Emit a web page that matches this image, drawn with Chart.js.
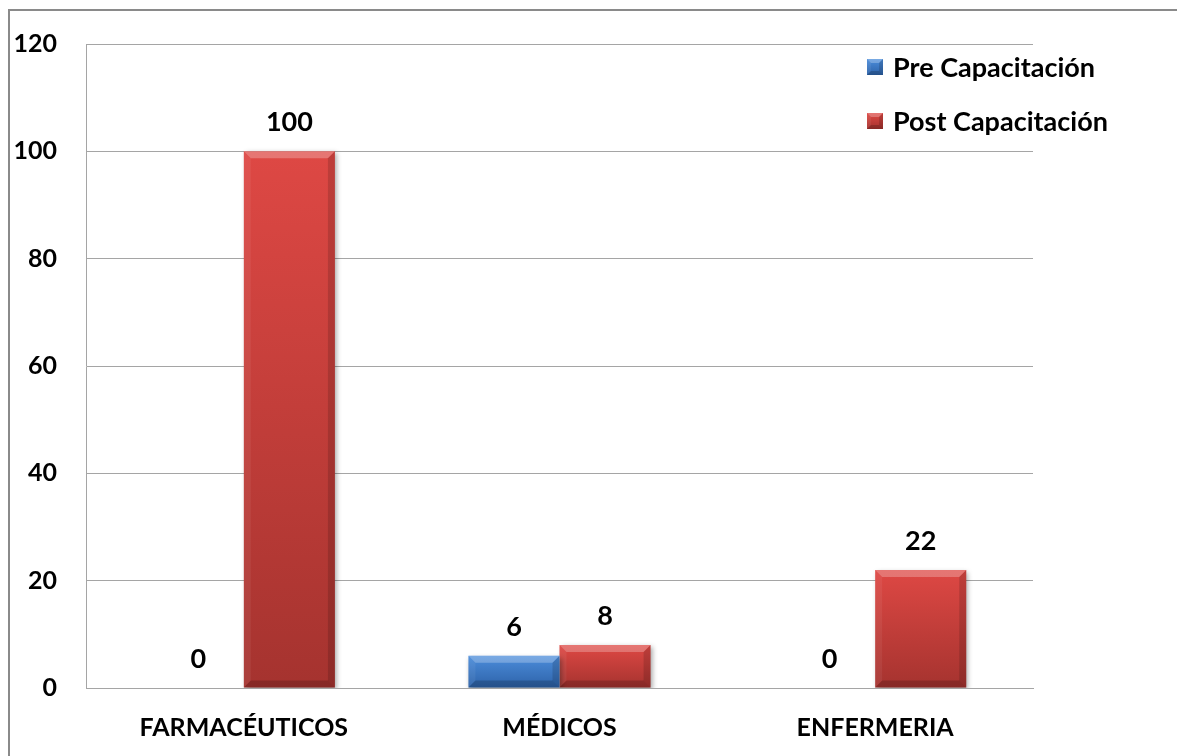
<!DOCTYPE html>
<html>
<head>
<meta charset="utf-8">
<script src="https://cdn.jsdelivr.net/npm/chart.js@4/dist/chart.umd.min.js"></script>
<style>
  html, body { margin: 0; padding: 0; background: #fff; overflow: hidden; }
  #wrap { position: absolute; left: 0; top: 0; width: 1177px; height: 756px; }
</style>
</head>
<body>
<div id="wrap"><canvas id="chart-capacitacion" width="1177" height="756"></canvas></div>
<script>
// ── Data
const categories = ['FARMACÉUTICOS', 'MÉDICOS', 'ENFERMERIA'];
const seriesNames = ['Pre Capacitación', 'Post Capacitación'];
const preValues  = [0, 6, 0];
const postValues = [100, 8, 22];
const yTicks = [0, 20, 40, 60, 80, 100, 120];

const FONT = 'Lato, "Open Sans", sans-serif';
const palette = [
  { top: '#4c8ddb', bottom: '#2d62a8' },   // pre
  { top: '#de4844', bottom: '#a5332f' },   // post
];

// vertical gradient per bar, from bar top down to the zero line
function barFill(idx) {
  return (c) => {
    const { chart } = c;
    const area = chart.chartArea;
    if (!area || c.type !== 'data') return palette[idx].top;
    const ys = chart.scales.y;
    const top = ys.getPixelForValue(c.raw);
    const base = ys.getPixelForValue(0);
    if (base - top < 1) return palette[idx].top;
    const g = chart.ctx.createLinearGradient(0, top, 0, base);
    g.addColorStop(0, palette[idx].top);
    g.addColorStop(1, palette[idx].bottom);
    return g;
  };
}

// ── Plugins
const frame = {
  id: 'frame',
  beforeDraw(chart) {
    const ctx = chart.ctx;
    ctx.save();
    ctx.strokeStyle = '#8a8a8a';
    ctx.lineWidth = 2;
    ctx.beginPath();
    ctx.moveTo(9, chart.height);
    ctx.lineTo(9, 10);
    ctx.lineTo(chart.width, 10);
    ctx.stroke();
    ctx.restore();
  }
};

const barShadow = {
  id: 'barShadow',
  beforeDatasetsDraw(chart) {
    const ctx = chart.ctx;
    ctx.save();
    ctx.shadowColor = 'rgba(0,0,0,0.35)';
    ctx.shadowBlur = 5;
    ctx.shadowOffsetX = 2;
    ctx.shadowOffsetY = 2;
  },
  afterDatasetsDraw(chart) {
    chart.ctx.restore();
  }
};

function bevel(ctx, x0, y0, x1, y1) {
  const h = y1 - y0;
  if (h < 1) return;
  const b = Math.min(7, h / 3, (x1 - x0) / 4);
  const poly = (pts, fill) => {
    ctx.beginPath();
    ctx.moveTo(pts[0][0], pts[0][1]);
    for (let i = 1; i < pts.length; i++) ctx.lineTo(pts[i][0], pts[i][1]);
    ctx.closePath();
    ctx.fillStyle = fill;
    ctx.fill();
  };
  poly([[x0, y0], [x1, y0], [x1 - b, y0 + b], [x0 + b, y0 + b]], 'rgba(255,255,255,0.25)');
  poly([[x0, y0], [x0 + b, y0 + b], [x0 + b, y1 - b], [x0, y1]], 'rgba(255,255,255,0.06)');
  poly([[x1, y0], [x1, y1], [x1 - b, y1 - b], [x1 - b, y0 + b]], 'rgba(0,0,0,0.14)');
  poly([[x0, y1], [x0 + b, y1 - b], [x1 - b, y1 - b], [x1, y1]], 'rgba(0,0,0,0.18)');
}

const barBevel = {
  id: 'barBevel',
  afterDatasetsDraw(chart) {
    const ctx = chart.ctx;
    ctx.save();
    chart.data.datasets.forEach((ds, i) => {
      chart.getDatasetMeta(i).data.forEach(bar => {
        const half = bar.width / 2;
        bevel(ctx, bar.x - half, Math.min(bar.y, bar.base), bar.x + half, Math.max(bar.y, bar.base));
      });
    });
    ctx.restore();
  }
};

const valueLabels = {
  id: 'valueLabels',
  afterDatasetsDraw(chart) {
    const ctx = chart.ctx;
    ctx.save();
    ctx.font = `bold 27px ${FONT}`;
    ctx.fillStyle = '#000';
    ctx.textAlign = 'center';
    ctx.textBaseline = 'alphabetic';
    chart.data.datasets.forEach((ds, i) => {
      chart.getDatasetMeta(i).data.forEach((bar, j) => {
        ctx.fillText(String(ds.data[j]), bar.x, bar.y - 20);
      });
    });
    ctx.restore();
  }
};

const sideLegend = {
  id: 'sideLegend',
  afterDraw(chart) {
    const ctx = chart.ctx;
    const x = 867, size = 16;
    const rows = [67, 121];
    ctx.save();
    ctx.font = `bold 27px ${FONT}`;
    ctx.textBaseline = 'middle';
    ctx.textAlign = 'left';
    chart.data.datasets.forEach((ds, i) => {
      const cy = rows[i];
      const y0 = cy - size / 2;
      const g = ctx.createLinearGradient(0, y0, 0, y0 + size);
      g.addColorStop(0, palette[i].top);
      g.addColorStop(1, palette[i].bottom);
      ctx.fillStyle = g;
      ctx.fillRect(x, y0, size, size);
      bevel(ctx, x, y0, x + size, y0 + size);
      ctx.fillStyle = '#000';
      ctx.fillText(ds.label, x + 26, cy + 1);
    });
    ctx.restore();
  }
};

// ── Chart
new Chart(document.getElementById('chart-capacitacion'), {
  type: 'bar',
  data: {
    labels: categories,
    datasets: [
      { label: seriesNames[0], data: preValues,  backgroundColor: barFill(0), borderWidth: 0 },
      { label: seriesNames[1], data: postValues, backgroundColor: barFill(1), borderWidth: 0 },
    ]
  },
  options: {
    responsive: false,
    animation: false,
    layout: { padding: { left: 0, top: 41, right: 144, bottom: 0 } },
    categoryPercentage: 0.577,
    barPercentage: 1,
    plugins: {
      legend: { display: false },
      tooltip: { enabled: false },
    },
    scales: {
      x: {
        grid: { display: false, drawTicks: false },
        border: { display: true, color: '#a5a5a5', width: 1 },
        ticks: { color: '#000', padding: 25, font: { family: FONT, size: 25, weight: 'bold' } },
        afterFit: (s) => { s.height = 68; },
      },
      y: {
        min: 0,
        max: 120,
        afterBuildTicks: (s) => { s.ticks = yTicks.map(v => ({ value: v })); },
        grid: { color: '#a5a5a5', lineWidth: 1, drawTicks: false },
        border: { display: true, color: '#a5a5a5', width: 1 },
        ticks: { color: '#000', padding: 29, font: { family: FONT, size: 25, weight: 'bold' } },
        afterFit: (s) => { s.width = 86; },
      }
    }
  },
  plugins: [frame, barShadow, barBevel, valueLabels, sideLegend]
});
</script>
</body>
</html>
